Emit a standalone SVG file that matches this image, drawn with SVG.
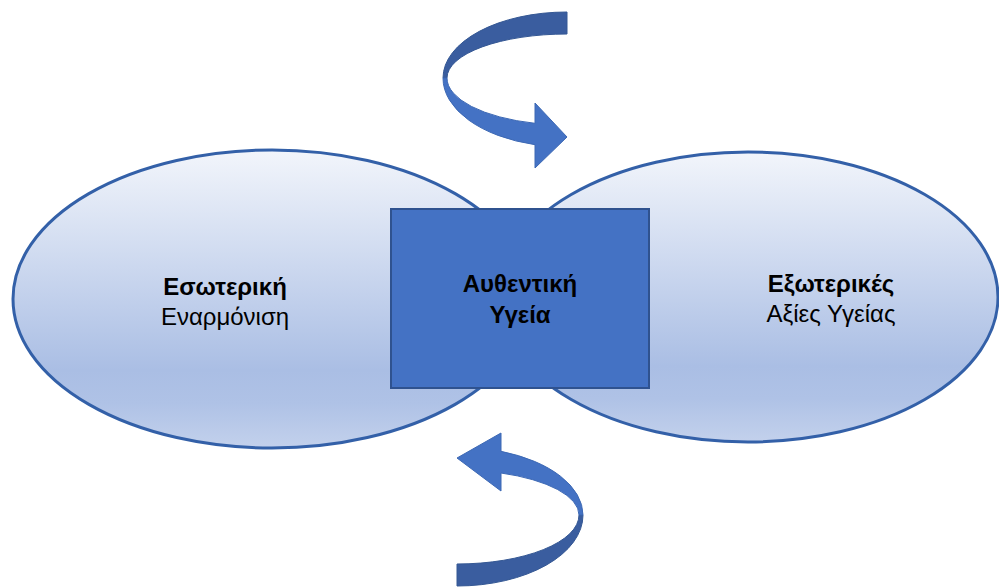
<svg xmlns="http://www.w3.org/2000/svg" width="999" height="587" viewBox="0 0 999 587">
<defs>
<linearGradient id="g" x1="0" y1="0" x2="0" y2="1">
<stop offset="0" stop-color="#F2F5FB"/>
<stop offset="0.74" stop-color="#AABEE4"/>
<stop offset="0.85" stop-color="#AFC2E6"/>
<stop offset="1" stop-color="#C3D1EC"/>
</linearGradient>
<style>
.ell{fill:url(#g);stroke:#3360A8;stroke-width:3}
.box{fill:#4472C4;stroke:#2F528F;stroke-width:2}
.t{font-family:"Liberation Sans",Arial,sans-serif;font-size:24px;fill:#000;text-anchor:middle}
.b{font-weight:bold}
.lt{fill:#4472C4;stroke:#3C68B4;stroke-width:1}
.dk{fill:#3A5D9F;stroke:#355894;stroke-width:1}
</style>
</defs>
<g id="left-ellipse">
<ellipse class="ell" cx="272" cy="299" rx="259" ry="149"/>
<text class="t b" x="225" y="295">Εσωτερική</text>
<text class="t" x="225" y="325">Εναρμόνιση</text>
</g>
<g id="right-ellipse">
<ellipse class="ell" cx="748" cy="297" rx="250" ry="145"/>
<text class="t b" x="831" y="292">Εξωτερικές</text>
<text class="t" x="831" y="322">Αξίες Υγείας</text>
</g>
<g id="center">
<rect class="box" x="391" y="209" width="258" height="179"/>
<text class="t b" x="520" y="292">Αυθεντική</text>
<text class="t b" x="520" y="323">Υγεία</text>
</g>
<g id="connectors">
<g id="top-arrow">
<path class="dk" d="M567,12 A124,66 0 0 0 443,78 L447,78 A120,44 0 0 1 567,34 Z"/>
<path class="lt" d="M443,78 A124,69 0 0 0 535,144.7 L535,168 L567,137 L535,103 L535,123.3 A120,47 0 0 1 447,78 Z"/>
</g>
<g id="bottom-arrow">
<path class="dk" d="M583,515 A126,71 0 0 1 457,586 L457,564 A122,49 0 0 0 579,515 Z"/>
<path class="lt" d="M583,515 A126,68 0 0 0 501,451.3 L501,433 L457,458 L501,491 L501,473 A122,45 0 0 1 579,515 Z"/>
</g>
</g>
</svg>
